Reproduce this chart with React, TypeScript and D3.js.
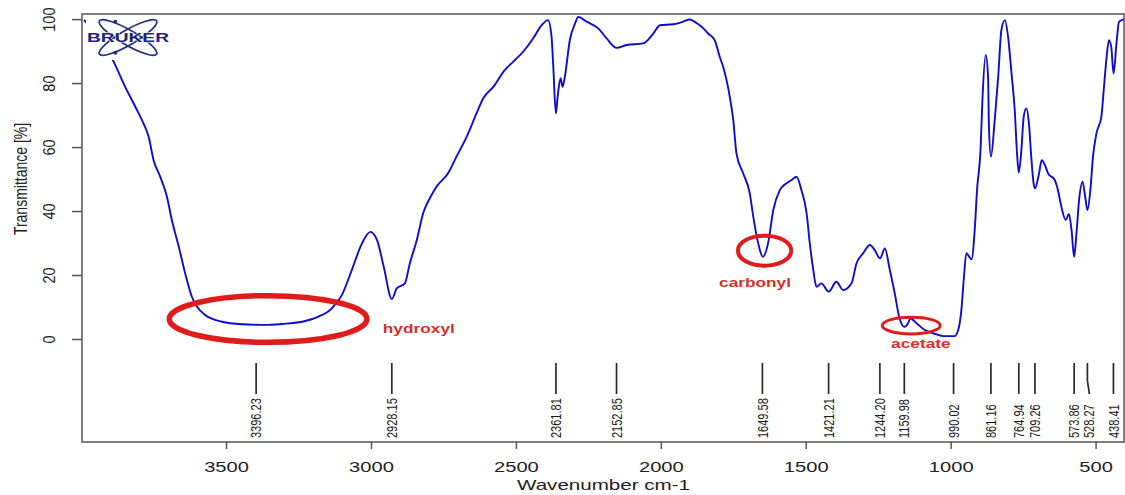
import React, { useEffect, useRef } from 'react'
import * as d3 from 'd3'

// FTIR spectrum (wavenumber in cm-1, transmittance in %)
const wavenumber = [
  3990, 3888, 3848, 3813, 3790, 3767, 3750, 3727, 3704, 3687, 3663, 3641, 3618, 3600, 3572,
  3514, 3445, 3376, 3307, 3238, 3181, 3135, 3100, 3066, 3031, 3002, 2979, 2956, 2928, 2911,
  2883, 2866, 2842, 2820, 2797, 2774, 2734, 2705, 2670, 2636, 2613, 2578, 2538, 2509, 2475,
  2440, 2411, 2389, 2377, 2371, 2362, 2356, 2346, 2339, 2331, 2314, 2296, 2285, 2256, 2216,
  2187, 2153, 2118, 2061, 2026, 2003, 1957, 1923, 1900, 1877, 1859, 1837, 1814, 1796, 1785,
  1762, 1750, 1739, 1716, 1693, 1681, 1664, 1648, 1630, 1612, 1589, 1566, 1549, 1532, 1515,
  1497, 1486, 1474, 1463, 1446, 1421, 1394, 1371, 1342, 1325, 1302, 1279, 1262, 1244, 1227,
  1210, 1193, 1178, 1160, 1147, 1139, 1118, 1089, 1060, 1026, 986, 974, 963, 955, 946,
  928, 917, 909, 897, 890, 879, 871, 868, 861, 848, 836, 825, 813, 802, 790,
  779, 771, 765, 756, 748, 739, 730, 722, 714, 709, 695, 686, 675, 664, 641,
  630, 618, 603, 592, 583, 574, 566, 557, 545, 536, 528, 518, 509, 497, 480,
  472, 463, 454, 446, 438, 428, 419, 402,
]
const transmittance = [
  99.8, 86.7, 78.8, 72.6, 68.4, 63.2, 55.9, 50.7, 44.5, 37.2, 28.8, 20.5, 13.2, 10.1, 7.5,
  5.4, 4.6, 4.4, 4.7, 5.4, 7.0, 9.6, 13.8, 21.6, 29.9, 33.5, 30.9, 22.6, 12.5, 15.8,
  17.4, 23.6, 30.9, 39.3, 44.0, 47.6, 51.8, 57.0, 63.2, 70.5, 75.2, 78.8, 84.1, 86.7, 89.8,
  94.0, 98.1, 99.7, 94.5, 85.1, 70.5, 75.7, 81.5, 78.8, 82.0, 93.4, 98.6, 100.7, 99.2, 97.1,
  94.0, 91.0, 91.9, 92.4, 95.5, 98.1, 98.4, 99.2, 99.9, 98.8, 97.6, 95.5, 93.4, 88.0, 85.1,
  75.7, 68.4, 58.0, 51.8, 45.5, 38.2, 29.9, 25.7, 29.9, 40.3, 46.6, 48.7, 49.7, 50.7, 46.6,
  39.3, 29.9, 21.6, 16.3, 17.4, 14.8, 17.9, 15.3, 17.4, 23.6, 26.8, 29.4, 27.8, 25.2, 28.3,
  21.6, 14.3, 7.0, 3.8, 4.9, 6.5, 4.9, 2.8, 1.8, 0.9, 0.9, 2.8, 9.1, 18.4, 26.8,
  24.9, 34.1, 46.6, 59.1, 75.7, 88.8, 82.0, 66.3, 57.0, 68.4, 82.0, 96.6, 99.7, 94.5, 83.0,
  71.6, 58.0, 52.0, 59.1, 69.5, 72.1, 67.4, 57.0, 48.7, 47.1, 51.8, 55.9, 54.4, 51.8, 49.7,
  46.6, 41.3, 37.2, 39.1, 34.1, 25.7, 33.0, 43.4, 49.2, 44.5, 40.3, 46.6, 57.0, 64.3, 69.5,
  77.8, 87.2, 93.4, 91.3, 83.0, 92.4, 99.2, 99.9,
]

// picked peaks printed under the spectrum
const peakPositions = [
  3396.23, 2928.15, 2361.81, 2152.85, 1649.58, 1421.21, 1244.2, 1159.98,
  990.02, 861.16, 764.94, 709.26, 573.86, 528.27, 438.41,
]

const xTicks = [3500, 3000, 2500, 2000, 1500, 1000, 500]
const yTicks = [0, 20, 40, 60, 80, 100]

// hand-drawn band annotations (centre and extent in data units)
const bandLabels = ['hydroxyl', 'carbonyl', 'acetate']
const bandCentreWn = [3355, 1642, 1136]
const bandCentreT = [6.25, 27.6, 4.2]
const bandHalfWidthWn = [341, 92, 100]
const bandHalfHeightT = [7.3, 4.7, 2.6]
const bandTextWn = [2835, 1675, 1103]
const bandTextT = [2.0, 16.3, -2.9]

const W = 1125
const H = 495
const PLOT = { left: 82, right: 1124, top: 14, bottom: 442 }
const AXIS = '#555'
const INK = '#222'
const BLUE = '#0c0cd2'
const RED = '#e01b1b'
const RING_WIDTH: Record<string, number> = { hydroxyl: 5.5, carbonyl: 4, acetate: 3 }
const FONT = '"Liberation Sans", Arial, Helvetica, sans-serif'

export default function App() {
  const xAxisRef = useRef<SVGGElement>(null)
  const yAxisRef = useRef<SVGGElement>(null)

  const x = d3.scaleLinear().domain([3997, 402]).range([PLOT.left, PLOT.right])
  const y = d3.scaleLinear().domain([-32.2, 101.6]).range([PLOT.bottom, PLOT.top])

  useEffect(() => {
    const gx = d3.select(xAxisRef.current)
    gx.selectAll('*').remove()
    gx.call(d3.axisBottom(x).tickValues(xTicks).tickSize(7).tickSizeOuter(0).tickFormat(d3.format('d')))
    gx.attr('font-family', FONT).attr('font-size', 15.5)
    gx.select('.domain').remove()
    gx.selectAll('.tick line').attr('stroke', AXIS).attr('stroke-width', 1.5)
    gx.selectAll('.tick text')
      .attr('y', 0).attr('dy', 0)
      .attr('transform', 'translate(0,29.7) scale(1.3,1)')
      .attr('fill', INK)

    const gy = d3.select(yAxisRef.current)
    gy.selectAll('*').remove()
    gy.call(d3.axisLeft(y).tickValues(yTicks).tickSize(10).tickSizeOuter(0).tickFormat(d3.format('d')))
    gy.attr('font-family', FONT).attr('font-size', 14.5)
    gy.select('.domain').remove()
    gy.selectAll('.tick line').attr('stroke', AXIS).attr('stroke-width', 1.5)
    gy.selectAll('.tick text')
      .attr('x', 0).attr('dy', 0)
      .attr('text-anchor', 'middle')
      .attr('transform', 'translate(-27,0) scale(1.2,1) rotate(-90)')
      .attr('fill', INK)
  }, [])

  const points: [number, number][] = wavenumber.map((w, i) => [w, transmittance[i]])
  const line = d3.line<[number, number]>()
    .x((d) => x(d[0]))
    .y((d) => y(d[1]))
    .curve(d3.curveMonotoneX)

  // push crowded peak labels apart, left to right
  const peakX = peakPositions.map((p) => x(p))
  const labelX: number[] = []
  peakX.forEach((px, i) => {
    labelX.push(i === 0 ? px : Math.max(px, labelX[i - 1] + 15))
  })

  return (
    <svg
      width={W}
      height={H}
      viewBox={`0 0 ${W} ${H}`}
      style={{ position: 'absolute', left: 0, top: 0, background: '#fff' }}
      fontFamily={FONT}
    >
      <rect x={0} y={0} width={W} height={H} fill="#fff" />

      <path d={line(points) || ''} fill="none" stroke={BLUE} strokeWidth={1.9} strokeLinejoin="round" />

      {/* Bruker logo, it hides the first part of the trace */}
      <g>
        <rect x={86} y={15} width={84} height={45} fill="#fff" />
        <g transform="translate(128,37.5)" stroke="#23307f" fill="none" strokeWidth={1.8}>
          <ellipse rx={33} ry={7.5} transform="rotate(30)" />
          <ellipse rx={33} ry={7.5} transform="rotate(-30)" />
          <circle cx={-12.7} cy={-15.8} r={2} fill="#23307f" stroke="none" />
          <circle cx={-12.7} cy={15.2} r={2} fill="#23307f" stroke="none" />
        </g>
        <text
          x={87}
          y={42}
          textLength={82}
          lengthAdjust="spacingAndGlyphs"
          fontSize={12.5}
          fontWeight={900}
          fill="#1a2478"
          stroke="#fff"
          strokeWidth={0.8}
          paintOrder="stroke"
        >
          BRUKER
        </text>
      </g>

      {bandLabels.map((label, i) => {
        const cx = x(bandCentreWn[i])
        const cy = y(bandCentreT[i])
        const rx = Math.abs(x(bandCentreWn[i] + bandHalfWidthWn[i]) - cx)
        const ry = Math.abs(y(bandCentreT[i] + bandHalfHeightT[i]) - cy)
        const tx = x(bandTextWn[i])
        const ty = y(bandTextT[i])
        return (
          <g key={label}>
            <ellipse cx={cx} cy={cy} rx={rx} ry={ry} fill="none" stroke={RED} strokeWidth={RING_WIDTH[label]} />
            <text
              transform={`translate(${tx},${ty}) scale(1.33,1)`}
              textAnchor="middle"
              fontSize={13}
              fontWeight="bold"
              fill="#d8302a"
            >
              {label}
            </text>
          </g>
        )
      })}

      {/* peak picking marks */}
      {peakPositions.map((p, i) => {
        const px = peakX[i]
        const lx = labelX[i]
        const d = Math.abs(lx - px) < 0.5
          ? `M${px},363V394`
          : `M${px},363V381L${lx},392V394`
        return (
          <g key={p}>
            <path d={d} fill="none" stroke="#2a2a2a" strokeWidth={1.7} />
            <text
              transform={`translate(${lx},438) scale(1.3,1) rotate(-90)`}
              dy="0.36em"
              fontSize={11}
              fill="#1a1a1a"
            >
              {d3.format('.2f')(p)}
            </text>
          </g>
        )
      })}

      {/* frame */}
      <rect
        x={PLOT.left}
        y={PLOT.top}
        width={PLOT.right - PLOT.left}
        height={PLOT.bottom - PLOT.top}
        fill="none"
        stroke={AXIS}
        strokeWidth={1.5}
      />

      <g ref={xAxisRef} transform={`translate(0,${PLOT.bottom})`} />
      <g ref={yAxisRef} transform={`translate(${PLOT.left},0)`} />

      <text x={517} y={490} textLength={173} lengthAdjust="spacingAndGlyphs" fontSize={14.5} fill={INK}>
        Wavenumber cm-1
      </text>
      <text
        transform={`translate(26.5,179) scale(1.3,1) rotate(-90)`}
        textAnchor="middle"
        fontSize={14}
        fill={INK}
      >
        Transmittance [%]
      </text>
    </svg>
  )
}
